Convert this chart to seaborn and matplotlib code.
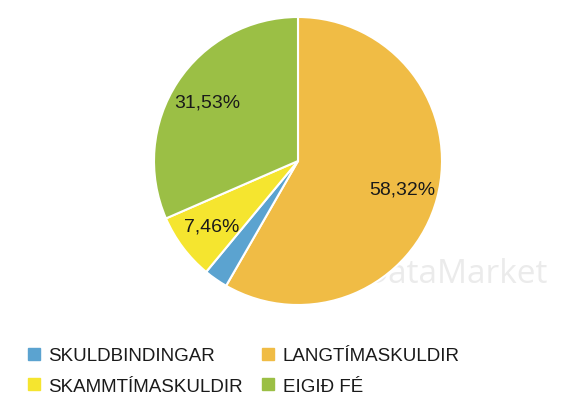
import matplotlib
matplotlib.use("Agg")
import matplotlib.pyplot as plt
from matplotlib.lines import Line2D
import seaborn as sns

# shares, in drawing order (clockwise from 12 o'clock)
categories = ["LANGTÍMASKULDIR", "SKULDBINDINGAR", "SKAMMTÍMASKULDIR", "EIGIÐ FÉ"]
values = [58.32, 2.69, 7.46, 31.53]
colors = ["#f0bc45", "#5ba3d0", "#f5e52f", "#9bbf45"]
legend_order = ["SKULDBINDINGAR", "SKAMMTÍMASKULDIR", "LANGTÍMASKULDIR", "EIGIÐ FÉ"]

sns.set_theme(style="white")
plt.rcParams['font.family'] = ['Liberation Sans', 'DejaVu Sans']

fig = plt.figure(figsize=(5.75, 4.1), dpi=100)
fig.patch.set_facecolor("white")

# watermark behind the pie
fig.text(548 / 575, 1 - 283 / 410, "DataMarket", ha="right", va="baseline",
         fontsize=24, color="#ebebeb", family="Open Sans", zorder=-5)

ax = fig.add_axes([(298 - 144) / 575, (410 - 162 - 144) / 410, 288 / 575, 288 / 410])
ax.patch.set_alpha(0)


def pct_label(p):
    return f"{p:.2f}%".replace(".", ",") if p > 5 else ""


wedges, texts, autotexts = ax.pie(
    values, colors=colors, startangle=90, counterclock=False,
    autopct=pct_label, pctdistance=0.75,
    wedgeprops=dict(edgecolor="white", linewidth=1.5),
    textprops=dict(fontsize=14, color="#1a1a1a"),
)
ax.set_xlim(-1, 1)
ax.set_ylim(-1, 1)
ax.set_aspect("equal")
ax.axis("off")

handles = [Line2D([], [], marker="s", linestyle="none", markersize=8.5,
                  color=colors[categories.index(c)]) for c in legend_order]
fig.legend(handles, legend_order, loc="upper left",
           bbox_to_anchor=(27 / 575, 1 - 348 / 410), ncol=2, frameon=False,
           fontsize=13.5, handlelength=0.7, handletextpad=0.45,
           columnspacing=0.95, labelspacing=0.72, borderpad=0, borderaxespad=0,
           labelcolor="#1a1a1a")

fig.savefig("out.png", dpi=100)
